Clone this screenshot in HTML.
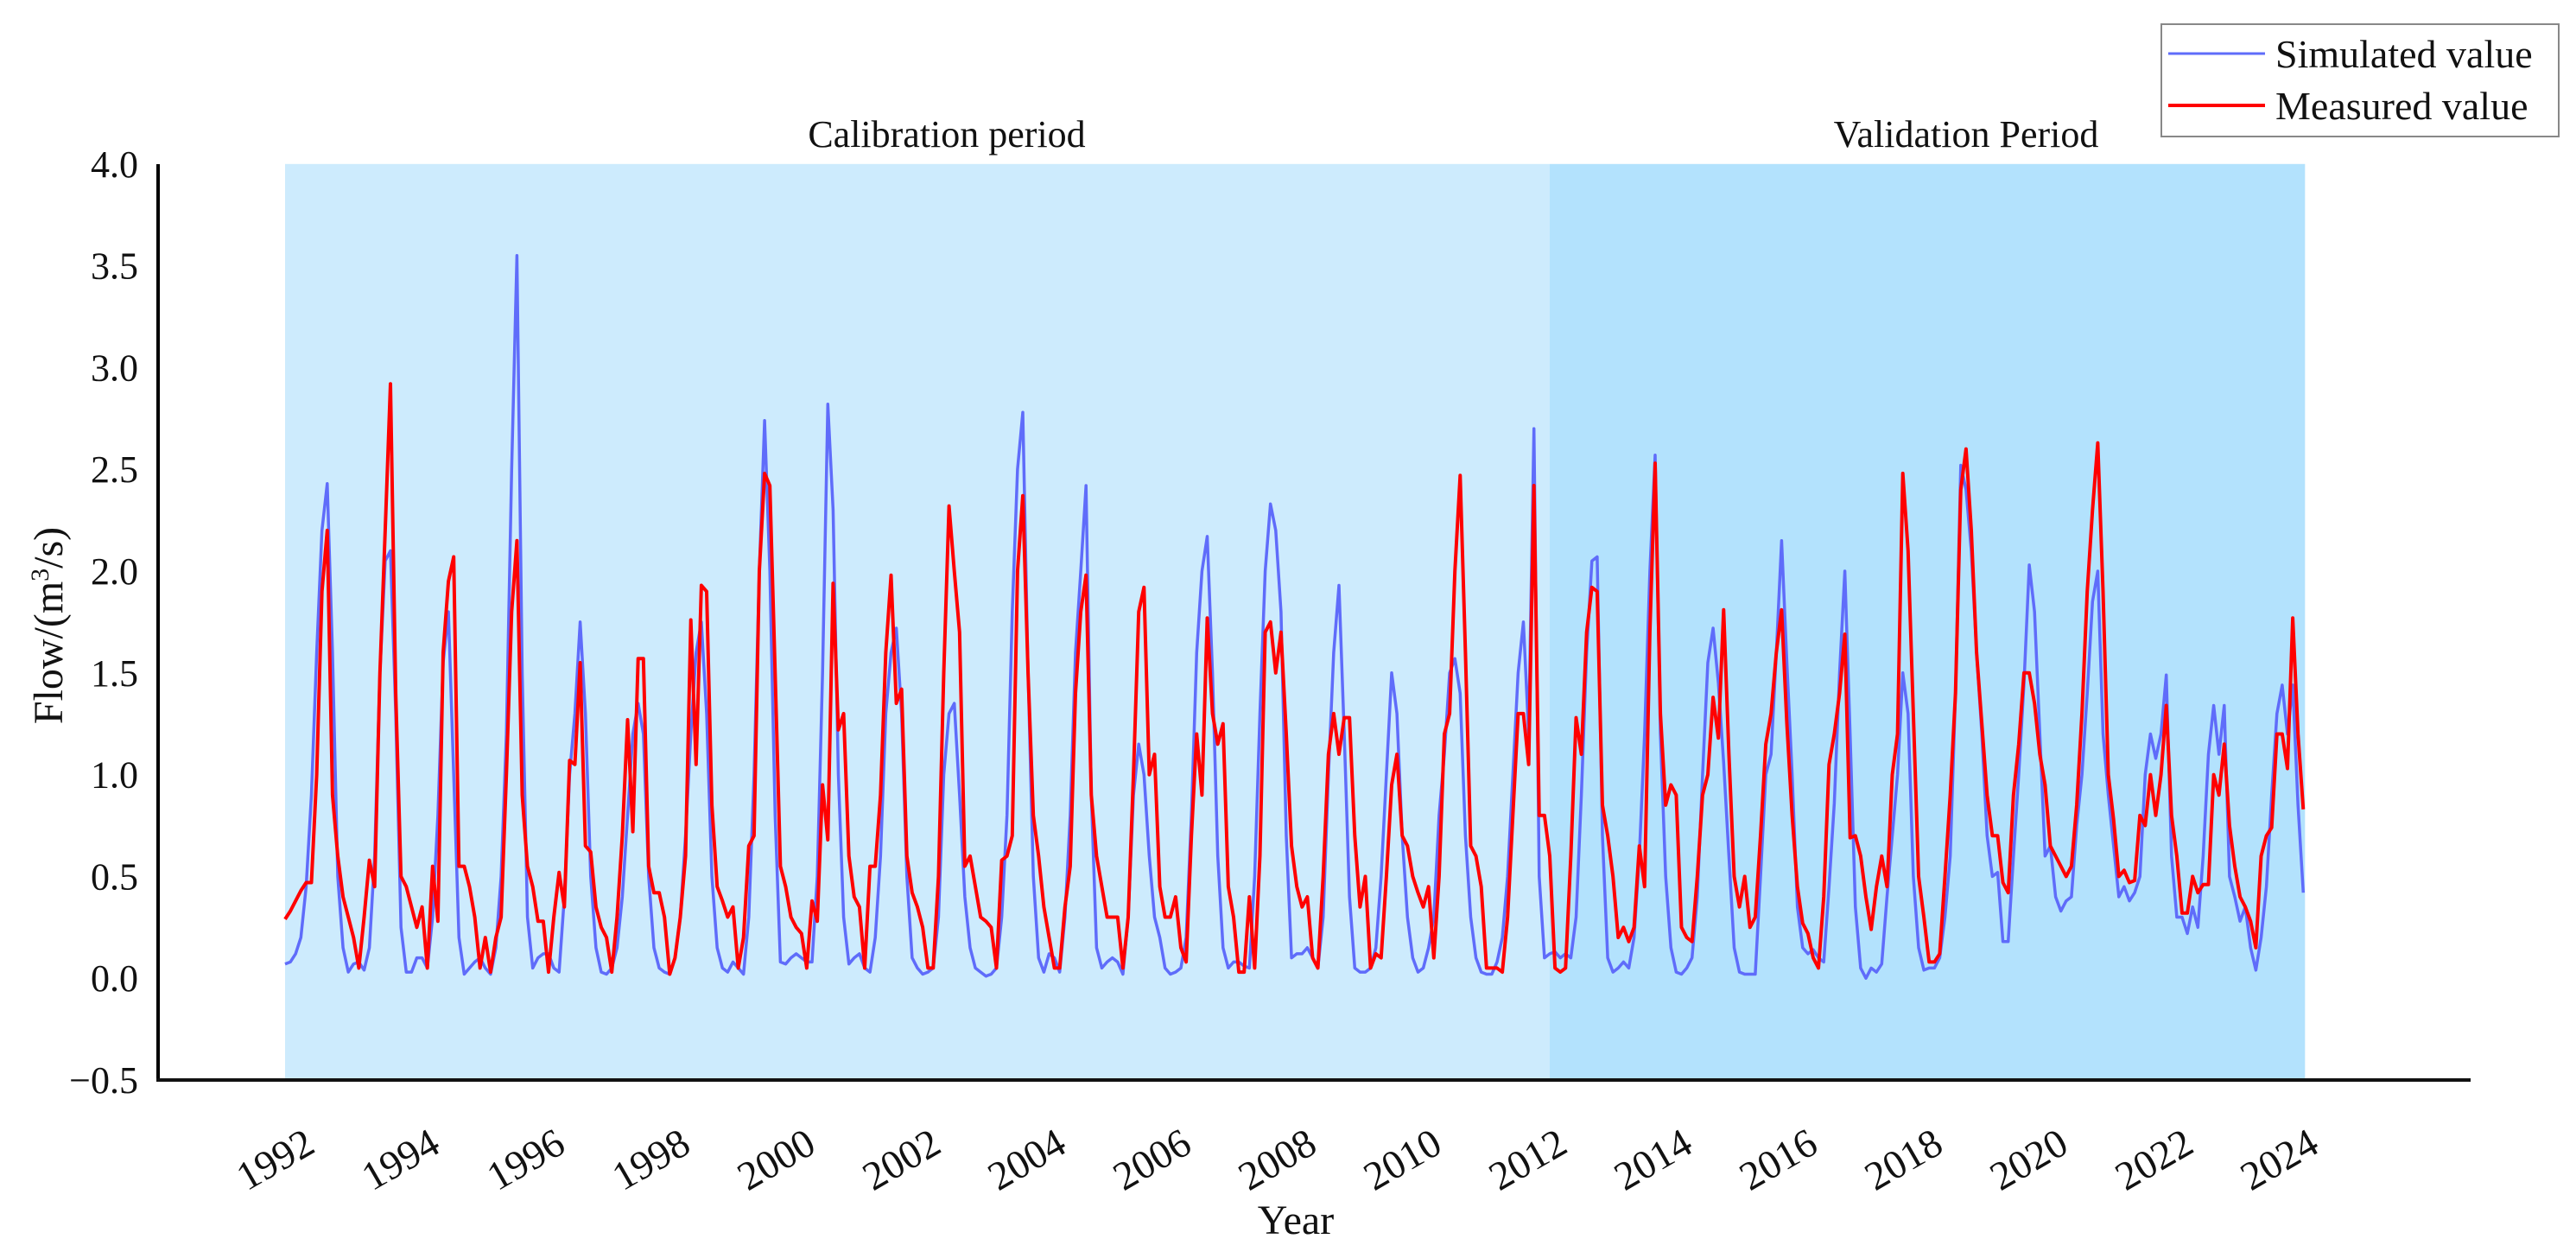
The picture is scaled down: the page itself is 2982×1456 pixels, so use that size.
<!DOCTYPE html>
<html><head><meta charset="utf-8"><style>
html,body{margin:0;padding:0;background:#fff;}
svg{display:block;font-family:"Liberation Serif",serif;}
</style></head><body>
<svg id="chart" width="2982" height="1456" viewBox="0 0 2982 1456" xmlns="http://www.w3.org/2000/svg">
<g id="bg"></g><g id="series"></g><g id="axes"></g>
</svg>
<script>
const startYear = 1992;
const calibEndMonth = 240;
const yTicks = [-0.5,0,0.5,1.0,1.5,2.0,2.5,3.0,3.5,4.0];
const xTickYears = [1992,1994,1996,1998,2000,2002,2004,2006,2008,2010,2012,2014,2016,2018,2020,2022,2024];
const simulated = [
0.07,0.08,0.12,0.2,0.45,0.9,1.6,2.2,2.43,1.6,0.5,0.15,
0.03,0.07,0.08,0.04,0.15,0.6,1.5,2.05,2.1,1.3,0.25,0.03,
0.03,0.1,0.1,0.05,0.3,0.8,1.55,1.8,1.0,0.2,0.02,0.05,
0.08,0.1,0.05,0.02,0.15,0.5,1.2,2.5,3.55,1.5,0.3,0.05,
0.1,0.12,0.12,0.05,0.03,0.4,1.0,1.3,1.75,1.3,0.5,0.15,
0.03,0.02,0.05,0.15,0.4,0.8,1.2,1.35,1.2,0.5,0.15,0.05,
0.03,0.02,0.1,0.3,0.7,1.2,1.6,1.75,1.3,0.5,0.15,0.05,
0.03,0.08,0.05,0.02,0.3,1.0,2.0,2.74,2.0,0.8,0.08,0.07,
0.1,0.12,0.1,0.08,0.08,0.5,1.5,2.82,2.3,1.0,0.3,0.07,
0.1,0.12,0.05,0.03,0.2,0.6,1.3,1.6,1.72,1.3,0.5,0.1,
0.05,0.02,0.03,0.05,0.3,1.0,1.3,1.35,0.9,0.4,0.15,0.05,
0.03,0.01,0.02,0.05,0.3,0.8,1.8,2.5,2.78,1.5,0.5,0.1,
0.03,0.12,0.1,0.03,0.3,0.8,1.6,2.0,2.42,0.9,0.15,0.05,
0.08,0.1,0.08,0.02,0.3,0.9,1.15,1.0,0.6,0.3,0.2,0.05,
0.02,0.03,0.05,0.2,0.8,1.6,2.0,2.17,1.5,0.6,0.15,0.05,
0.08,0.08,0.06,0.05,0.5,1.3,2.0,2.33,2.2,1.8,0.7,0.1,
0.12,0.12,0.15,0.1,0.05,0.3,1.0,1.6,1.93,1.2,0.4,0.05,
0.03,0.03,0.05,0.15,0.5,1.0,1.5,1.3,0.7,0.3,0.1,0.03,
0.05,0.15,0.3,0.8,1.1,1.5,1.57,1.4,0.7,0.3,0.1,0.03,
0.02,0.02,0.08,0.2,0.5,1.0,1.5,1.75,1.2,2.7,0.5,0.1,
0.12,0.13,0.1,0.12,0.1,0.3,0.9,1.6,2.05,2.07,0.7,0.1,
0.03,0.05,0.08,0.05,0.2,0.6,1.2,2.0,2.57,1.2,0.5,0.15,
0.03,0.02,0.05,0.1,0.4,1.0,1.55,1.72,1.45,1.06,0.6,0.15,
0.03,0.02,0.02,0.02,0.5,1.0,1.1,1.6,2.15,1.55,1.0,0.35,
0.15,0.12,0.14,0.1,0.08,0.45,0.86,1.5,2.0,1.2,0.35,0.05,
0.0,0.05,0.03,0.07,0.4,0.7,1.0,1.5,1.3,0.5,0.15,0.04,
0.05,0.05,0.1,0.3,0.6,1.4,2.52,2.4,2.1,1.6,1.2,0.7,
0.5,0.52,0.18,0.18,0.6,1.0,1.45,2.03,1.8,1.2,0.6,0.65,
0.4,0.33,0.38,0.4,0.75,1.0,1.4,1.85,2.0,1.2,0.9,0.65,
0.4,0.45,0.38,0.42,0.5,1.0,1.2,1.08,1.2,1.49,0.6,0.3,
0.3,0.22,0.35,0.25,0.6,1.1,1.34,1.1,1.34,0.5,0.4,0.28,
0.35,0.15,0.04,0.2,0.45,0.9,1.3,1.44,1.2,1.44,0.85,0.42
];
const measured = [
0.29,0.33,0.38,0.43,0.47,0.47,1.0,1.9,2.2,0.9,0.6,0.4,
0.3,0.2,0.05,0.3,0.58,0.45,1.5,2.2,2.92,1.4,0.5,0.45,
0.35,0.25,0.35,0.05,0.55,0.28,1.6,1.95,2.07,0.55,0.55,0.45,
0.3,0.05,0.2,0.03,0.2,0.3,1.0,1.8,2.15,0.9,0.55,0.45,
0.28,0.28,0.03,0.3,0.52,0.35,1.07,1.05,1.55,0.65,0.62,0.35,
0.25,0.2,0.03,0.3,0.7,1.27,0.72,1.57,1.57,0.55,0.42,0.42,
0.3,0.02,0.1,0.3,0.6,1.76,1.05,1.93,1.9,0.85,0.45,0.38,
0.3,0.35,0.05,0.2,0.65,0.7,2.0,2.48,2.42,1.5,0.55,0.45,
0.3,0.25,0.22,0.05,0.38,0.28,0.95,0.68,1.94,1.22,1.3,0.6,
0.4,0.35,0.05,0.55,0.55,0.9,1.6,1.98,1.35,1.42,0.6,0.42,
0.35,0.25,0.05,0.05,0.5,1.5,2.32,2.0,1.7,0.55,0.6,0.45,
0.3,0.28,0.25,0.05,0.58,0.6,0.7,2.0,2.37,1.5,0.8,0.6,
0.35,0.2,0.05,0.05,0.35,0.55,1.4,1.8,1.98,0.9,0.6,0.45,
0.3,0.3,0.3,0.05,0.3,1.0,1.8,1.92,1.0,1.1,0.45,0.3,
0.3,0.4,0.15,0.08,0.7,1.2,0.9,1.77,1.3,1.15,1.25,0.45,
0.3,0.03,0.03,0.4,0.05,0.6,1.7,1.75,1.5,1.7,1.2,0.65,
0.45,0.35,0.4,0.1,0.05,0.5,1.1,1.3,1.1,1.28,1.28,0.7,
0.35,0.5,0.05,0.12,0.1,0.5,0.95,1.1,0.7,0.65,0.5,0.42,
0.35,0.45,0.1,0.5,1.2,1.3,2.0,2.47,1.6,0.65,0.6,0.45,
0.05,0.05,0.05,0.03,0.3,0.8,1.3,1.3,1.05,2.42,0.8,0.8,
0.6,0.05,0.03,0.05,0.6,1.28,1.1,1.7,1.92,1.9,0.85,0.7,
0.5,0.2,0.25,0.18,0.25,0.65,0.45,1.7,2.53,1.3,0.85,0.95,
0.9,0.25,0.2,0.18,0.5,0.9,1.0,1.38,1.18,1.81,1.1,0.5,
0.35,0.5,0.25,0.3,0.7,1.15,1.3,1.6,1.81,1.25,0.8,0.45,
0.27,0.22,0.1,0.05,0.4,1.05,1.2,1.4,1.69,0.69,0.7,0.6,
0.4,0.24,0.45,0.6,0.45,1.0,1.2,2.48,2.1,1.3,0.5,0.3,
0.08,0.08,0.12,0.5,0.9,1.4,2.4,2.6,2.2,1.6,1.25,0.9,
0.7,0.7,0.47,0.42,0.9,1.15,1.5,1.5,1.35,1.1,0.95,0.65,
0.6,0.55,0.5,0.55,0.85,1.3,1.9,2.3,2.63,1.9,1.0,0.78,
0.5,0.53,0.47,0.48,0.8,0.75,1.0,0.8,1.0,1.34,0.8,0.6,
0.32,0.32,0.5,0.42,0.46,0.46,1.0,0.9,1.15,0.75,0.55,0.4,
0.35,0.28,0.15,0.6,0.7,0.74,1.2,1.2,1.03,1.77,1.2,0.83
];
const NS="http://www.w3.org/2000/svg";
const X0=330, MONTH_W=6.1, YV0=1250, YPX=235.6;
const TICK_X0=367, TICK_STEP=145;
function xMonth(m){return X0+m*MONTH_W;}
function xTick(y){return TICK_X0+(y-startYear)/2*TICK_STEP;}
function yVal(v){return YV0-(v+0.5)*YPX;}
function mk(tag,attrs,parent){const e=document.createElementNS(NS,tag);for(const k in attrs)e.setAttribute(k,attrs[k]);parent.appendChild(e);return e;}
const bg=document.getElementById('bg'), ser=document.getElementById('series'), ax=document.getElementById('axes');
const nMonths=simulated.length;
let r1=mk('rect',{x:xMonth(0),y:yVal(4.0),width:xMonth(calibEndMonth)-xMonth(0),height:yVal(-0.5)-yVal(4.0),fill:'#cdebfd'},bg);


let r2=mk('rect',{x:xMonth(calibEndMonth),y:yVal(4.0),width:xMonth(nMonths-1)-xMonth(calibEndMonth)+2,height:yVal(-0.5)-yVal(4.0),fill:'#b3e2fd'},bg);


function path(arr){return arr.map((v,i)=>(i?'L':'M')+xMonth(i).toFixed(1)+' '+yVal(v).toFixed(1)).join(' ');}
let ps=mk('path',{d:path(simulated),fill:'none',stroke:'#5f6cfa',"stroke-width":3.5,"stroke-linejoin":'round'},ser);


let pm=mk('path',{d:path(measured),fill:'none',stroke:'#ff0000',"stroke-width":4,"stroke-linejoin":'round'},ser);


let ya=mk('line',{x1:183,y1:190,x2:183,y2:1252,stroke:'#000',"stroke-width":4},ax);


let xa=mk('line',{x1:181,y1:1250,x2:2860,y2:1250,stroke:'#111',"stroke-width":4},ax);


yTicks.forEach(v=>{
  const t=mk('text',{x:160,y:yVal(v)+15,"text-anchor":'end',"font-size":44,fill:'#111'},ax);
  t.textContent=(v<0?'\u2212':'')+Math.abs(v).toFixed(1);
  
  
});
xTickYears.forEach(y=>{
  const x=xTick(y), yy=1332;
  const t=mk('text',{x:x,y:yy,"text-anchor":'end',"font-size":47,fill:'#111',transform:`rotate(-30 ${x} ${yy})`},ax);
  t.textContent=y;
  
  
});
function txt(s,attrs,name){const t=mk('text',attrs,ax);t.textContent=s;return t;}
txt('Year',{x:1500,y:1428,"text-anchor":'middle',"font-size":48,fill:'#111'},'x-axis-title');
const yt=mk('text',{x:72,y:724,"text-anchor":'middle',"font-size":48,fill:'#111',transform:'rotate(-90 72 724)'},ax);


yt.innerHTML='Flow/(m<tspan dy="-16" font-size="30">3</tspan><tspan dy="16">/s)</tspan>';
txt('Calibration period',{x:1096,y:170,"text-anchor":'middle',"font-size":44,fill:'#111'},'calibration-period-label');
txt('Validation Period',{x:2276,y:170,"text-anchor":'middle',"font-size":44,fill:'#111'},'validation-period-label');
const lg=mk('g',{},ax);


mk('rect',{x:2502,y:28,width:460,height:130,fill:'#fff',stroke:'#888',"stroke-width":2},lg);
mk('line',{x1:2510,y1:62,x2:2622,y2:62,stroke:'#5f6cfa',"stroke-width":3},lg);
mk('line',{x1:2510,y1:122,x2:2622,y2:122,stroke:'#ff0000',"stroke-width":4},lg);
const l1=mk('text',{x:2634,y:78,"font-size":46,fill:'#111'},lg);l1.textContent='Simulated value';


const l2=mk('text',{x:2634,y:138,"font-size":46,fill:'#111'},lg);l2.textContent='Measured value';


</script>
</body></html>
